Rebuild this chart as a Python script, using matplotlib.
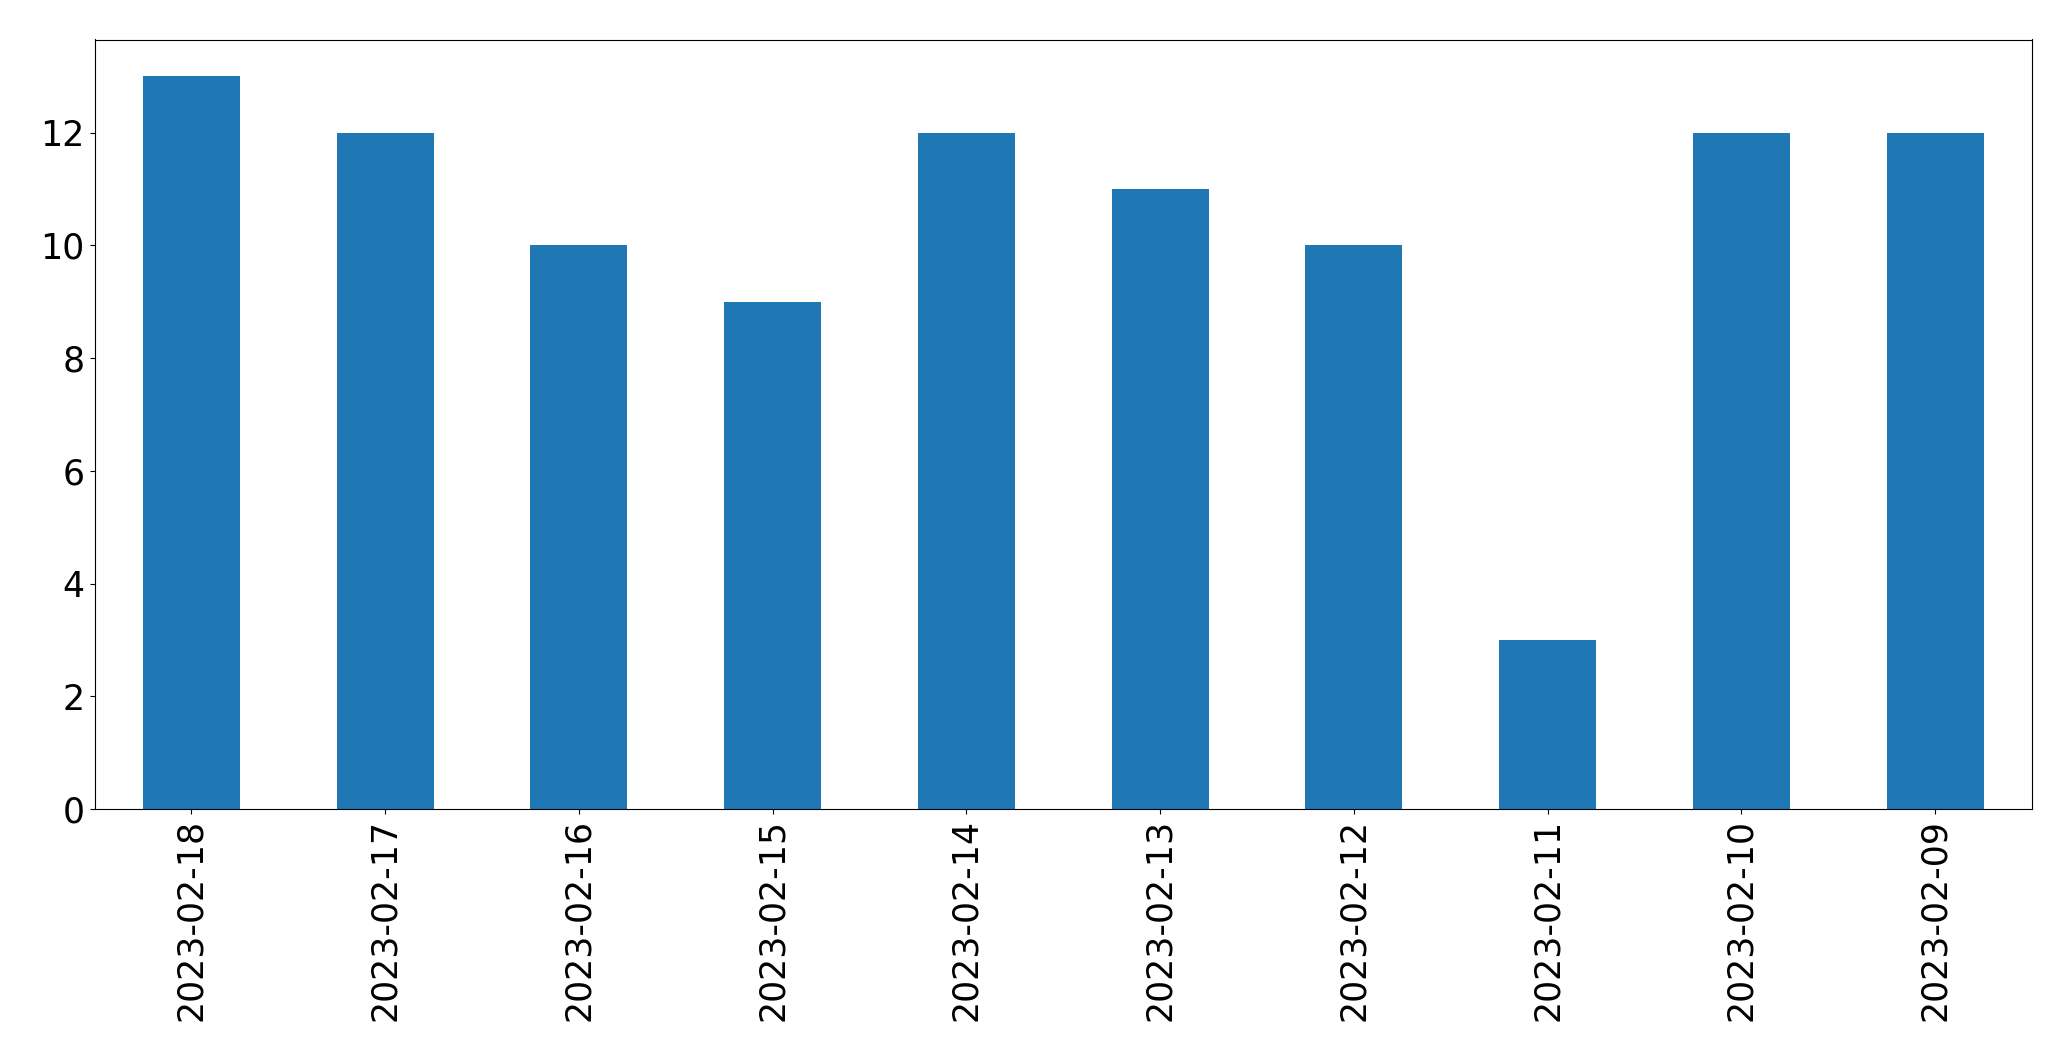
import matplotlib
matplotlib.use("Agg")
import matplotlib.pyplot as plt
import pandas as pd

dates = ["2023-02-18", "2023-02-17", "2023-02-16", "2023-02-15", "2023-02-14",
         "2023-02-13", "2023-02-12", "2023-02-11", "2023-02-10", "2023-02-09"]
counts = [13, 12, 10, 9, 12, 11, 10, 3, 12, 12]

s = pd.Series(counts, index=dates)

fig = plt.figure(figsize=(20.71, 10.61), dpi=100)
ax = fig.add_axes([94.5 / 2071, 1 - 809 / 1061, (2032 - 94.5) / 2071, (809 - 39.5) / 1061])
s.plot(kind="bar", ax=ax, color="#1f77b4")
ax.tick_params(axis="both", labelsize=25)

fig.savefig("out.png", dpi=100)
